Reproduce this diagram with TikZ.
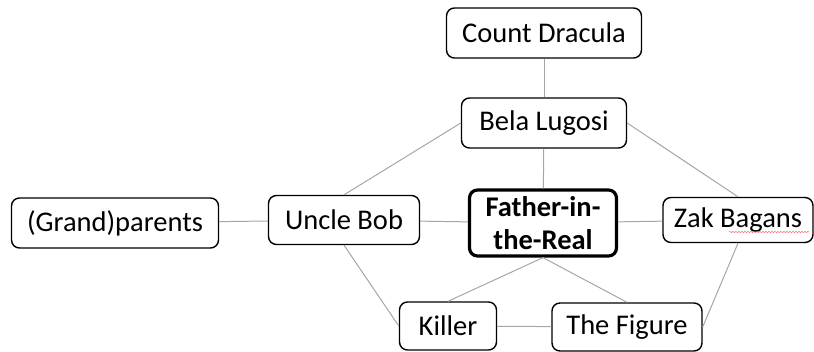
\documentclass[tikz,border=0pt]{standalone}
\usepackage{fontspec}
\setmainfont{Carlito}
\usetikzlibrary{decorations.pathmorphing}

\begin{document}
\begin{tikzpicture}[x=1pt,y=-1pt,
  box/.style={draw, rounded corners=8pt, line width=1.4pt, align=center, inner sep=0pt,
    font=\fontsize{28.5}{33}\selectfont},
  link/.style={draw=gray!70, line width=1pt}]
\useasboundingbox (0,0) rectangle (814,351);
%\draw[step=50,gray,very thin] (0,0) grid (814,351);

\node[box, minimum width=195pt, minimum height=50pt] (dracula) at (544,33) {Count Dracula};
\node[box, minimum width=165pt, minimum height=50pt] (bela) at (544,123) {Bela Lugosi};

\node[box, minimum width=207pt, minimum height=50pt] (parents) at (115,223) {(Grand)parents};
\node[box, minimum width=151pt, minimum height=49pt] (uncle) at (344,220) {Uncle Bob};

\node[box, line width=3.2pt, font=\fontsize{28.5}{33}\selectfont\bfseries,
  minimum width=147pt, minimum height=66pt] (father) at (543,223) {Father-in-\\the-Real};

\node[box, minimum width=150pt, minimum height=45pt] (zak) at (738,220) {Zak Bagans};
% spell check line
\draw[red!60, line width=0.5pt, decorate,
  decoration={snake, amplitude=0.6pt, segment length=3pt}] (729,232) -- (809,232);

\node[box, minimum width=97pt, minimum height=48pt] (killer) at (448,326) {Killer};
\node[box, minimum width=150pt, minimum height=48pt] (figure) at (627,327) {The Figure};

\draw[link] (dracula) -- (bela);
\draw[link] (bela) -- (father);
\draw[link] (bela.west) -- (uncle.north);
\draw[link] (bela.east) -- (zak.north);

\draw[link] (parents) -- (uncle);
\draw[link] (uncle) -- (father);
\draw[link] (father) -- (zak);

\draw[link] (uncle.south) -- (killer.west);
\draw[link] (father.south) -- (killer.north);
\draw[link] (father.south) -- (figure.north);
\draw[link] (killer) -- (figure);
\draw[link] (zak.south) -- (figure.east);

\end{tikzpicture}
\end{document}
